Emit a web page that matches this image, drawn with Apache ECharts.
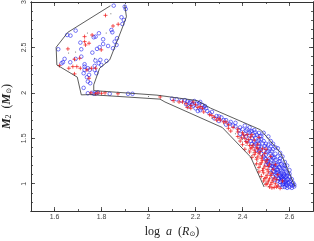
<!DOCTYPE html>
<html><head><meta charset="utf-8">
<style>html,body{margin:0;padding:0;background:#fff}#c{width:314px;height:241px}</style>
<script src="https://cdn.jsdelivr.net/npm/echarts@6/dist/echarts.min.js"></script>
</head><body><div id="c"></div>
<script>
const xMajor = [1.6,1.8,2,2.2,2.4,2.6];
const yMajor = [1,1.5,2,2.5,3];
const outlineLeft = [[1.838,2.959],[1.657,2.667],[1.607,2.502],[1.61,2.308],[1.697,2.173],[1.714,1.978],[1.75,1.981],[2.049,1.931],[2.07,1.90],[2.314,1.619],[2.435,1.293],[2.492,0.964]];
const outlineRight = [[2.623,0.97],[2.563,1.337],[2.477,1.593],[2.264,1.832],[2.207,1.915],[2.036,1.975],[1.767,2.025],[1.767,2.088],[1.792,2.271],[1.835,2.363],[1.885,2.692],[1.906,2.838],[1.899,2.967]];
const blueUpper = [[1.852,2.96],[1.899,2.949],[1.903,2.923],[1.885,2.832],[1.895,2.802],[1.889,2.758],[1.842,2.692],[1.846,2.667],[1.69,2.685],[1.654,2.637],[1.668,2.63],[1.789,2.656],[1.775,2.619],[1.767,2.612],[1.71,2.553],[1.807,2.59],[1.866,2.601],[1.856,2.564],[1.864,2.527],[1.849,2.491],[1.807,2.538],[1.828,2.516],[1.792,2.502],[1.781,2.484],[1.714,2.48],[1.761,2.443],[1.616,2.48],[1.643,2.374],[1.636,2.337],[1.63,2.326],[1.667,2.337],[1.69,2.374],[1.714,2.399],[1.728,2.315],[1.728,2.289],[1.774,2.355],[1.795,2.363],[1.788,2.326],[1.799,2.308],[1.771,2.297],[1.742,2.271],[1.771,2.253],[1.778,2.216],[1.75,2.253],[1.728,2.253],[1.724,2.216],[1.747,2.198],[1.738,2.172],[1.742,2.125],[1.752,2.106],[1.724,2.055],[1.821,2.352]];
const blueStrip = [[1.742,1.996],[1.76,2.0],[1.768,1.99],[1.778,1.996],[1.785,2.005],[1.835,1.99],[1.913,1.99],[1.932,1.99],[2.10,1.935],[2.12,1.93]];
const blueBand = [[2.14,1.915],[2.155,1.92],[2.165,1.905],[2.175,1.89],[2.18,1.90],[2.195,1.91],[2.205,1.88],[2.215,1.885],[2.23,1.865],[2.24,1.855],[2.2,1.83],[2.21,1.80],[2.235,1.84],[2.25,1.80],[2.26,1.775],[2.27,1.79],[2.29,1.745],[2.31,1.73],[2.33,1.70],[2.35,1.68],[2.37,1.63],[2.39,1.62],[2.37,1.67],[2.40,1.60],[2.41,1.64],[2.42,1.60],[2.43,1.56],[2.41,1.55],[2.40,1.52],[2.43,1.62],[2.44,1.58],[2.45,1.59],[2.46,1.54],[2.44,1.50],[2.42,1.47],[2.45,1.46],[2.47,1.56],[2.48,1.52],[2.49,1.56],[2.47,1.48],[2.45,1.42],[2.47,1.44],[2.49,1.47],[2.51,1.52],[2.50,1.44],[2.52,1.47],[2.53,1.44],[2.48,1.40],[2.50,1.39],[2.52,1.41],[2.51,1.36],[2.53,1.38],[2.55,1.39],[2.56,1.34],[2.54,1.33],[2.52,1.33],[2.50,1.32],[2.53,1.29],[2.55,1.30],[2.57,1.30],[2.52,1.26],[2.54,1.26],[2.56,1.25],[2.58,1.24],[2.51,1.22],[2.53,1.22],[2.55,1.21],[2.57,1.20],[2.59,1.20],[2.54,1.18],[2.56,1.17],[2.58,1.16],[2.60,1.15],[2.53,1.14],[2.55,1.13],[2.57,1.13],[2.59,1.12],[2.54,1.10],[2.56,1.09],[2.58,1.09],[2.60,1.08],[2.61,1.05],[2.55,1.06],[2.57,1.05],[2.59,1.05],[2.56,1.02],[2.58,1.02],[2.60,1.02],[2.62,0.99],[2.61,0.98],[2.59,0.98],[2.57,0.99],[2.60,0.965],[2.58,0.965],[2.62,0.97],[2.56,0.985],[2.55,1.03],[2.53,1.08],[2.52,1.17],[2.50,1.27],[2.48,1.33],[2.46,1.37],[2.44,1.44],[2.47,1.36],[2.49,1.30],[2.50,1.21],[2.52,1.12],[2.535,1.04],[2.45,1.53],[2.48,1.49],[2.51,1.43],[2.54,1.40],[2.56,1.28],[2.58,1.20],[2.60,1.11],[2.57,1.07],[2.59,1.09],[2.55,1.15],[2.53,1.19],[2.51,1.25],[2.49,1.36],[2.47,1.41],[2.43,1.53],[2.39,1.55],[2.36,1.64],[2.33,1.65],[2.30,1.69],[2.28,1.72],[2.22,1.81],[2.19,1.86],[2.17,1.85],[2.22,1.90]];
const blueDense = [[2.575,1.045],[2.585,1.035],[2.595,1.005],[2.605,0.995],[2.585,1.005],[2.575,1.015],[2.565,1.035],[2.555,1.055],[2.565,1.075],[2.575,1.085],[2.585,1.075],[2.545,1.085],[2.555,1.105],[2.565,1.115],[2.575,1.105],[2.585,1.135],[2.565,1.145],[2.545,1.155],[2.535,1.175],[2.555,1.185],[2.575,1.175],[2.525,1.195],[2.545,1.205],[2.565,1.215],[2.535,1.235],[2.555,1.245],[2.515,1.275],[2.535,1.285],[2.525,1.305],[2.505,1.345],[2.525,1.355],[2.495,1.415],[2.515,1.385],[2.485,1.445],[2.465,1.465],[2.455,1.505],[2.475,1.525],[2.435,1.575],[2.455,1.565],[2.415,1.585],[2.595,1.045],[2.605,1.035],[2.615,1.01],[2.57,0.965],[2.59,0.955],[2.61,0.955],[2.585,0.99],[2.575,1.0],[2.565,1.06],[2.545,1.12],[2.535,1.13],[2.515,1.205],[2.505,1.24],[2.495,1.28],[2.475,1.38],[2.455,1.44],[2.435,1.47],[2.415,1.52],[2.385,1.59],[2.345,1.66],[2.32,1.70],[2.3,1.74],[2.245,1.83],[2.225,1.83],[2.185,1.875],[2.16,1.875]];
const redUpper = [[1.817,2.853],[1.871,2.755],[1.849,2.736],[1.76,2.637],[1.728,2.619],[1.728,2.564],[1.732,2.527],[1.747,2.546],[1.657,2.484],[1.707,2.381],[1.685,2.37],[1.661,2.271],[1.678,2.289],[1.695,2.289],[1.71,2.271],[1.685,2.209],[1.621,2.3],[1.738,2.253],[1.757,2.271],[1.775,2.271],[1.747,2.161],[1.799,2.473]];
const redStrip = [[1.755,2.0],[1.775,1.99],[1.785,2.0],[1.80,1.995],[1.815,2.0],[1.87,1.99],[2.05,1.955],[2.105,1.915],[2.13,1.90],[2.145,1.90],[2.16,1.88]];
const redBand = [[2.18,1.86],[2.20,1.87],[2.19,1.90],[2.21,1.84],[2.165,1.84],[2.23,1.83],[2.235,1.79],[2.26,1.76],[2.28,1.73],[2.305,1.70],[2.32,1.68],[2.30,1.72],[2.34,1.65],[2.36,1.62],[2.35,1.58],[2.38,1.60],[2.40,1.56],[2.38,1.52],[2.39,1.47],[2.41,1.50],[2.42,1.45],[2.40,1.43],[2.43,1.42],[2.41,1.38],[2.44,1.40],[2.43,1.35],[2.45,1.37],[2.46,1.40],[2.45,1.32],[2.47,1.33],[2.44,1.29],[2.46,1.27],[2.48,1.28],[2.46,1.22],[2.48,1.23],[2.50,1.24],[2.47,1.18],[2.49,1.17],[2.51,1.19],[2.47,1.13],[2.49,1.12],[2.51,1.13],[2.53,1.16],[2.48,1.08],[2.50,1.07],[2.52,1.09],[2.49,1.03],[2.51,1.03],[2.53,1.04],[2.50,0.99],[2.52,0.99],[2.54,1.00],[2.535,0.96],[2.56,0.95],[2.55,0.975],[2.50,1.38],[2.52,1.30],[2.54,1.21],[2.45,1.48],[2.47,1.51],[2.42,1.54],[2.44,1.54],[2.38,1.57],[2.55,1.10],[2.57,1.03]];
const redDense = [[2.505,1.005],[2.525,1.015],[2.515,1.055],[2.535,1.065],[2.545,1.045],[2.495,1.055],[2.505,1.095],[2.525,1.115],[2.485,1.145],[2.505,1.155],[2.495,1.195],[2.515,1.215],[2.475,1.215],[2.485,1.255],[2.505,1.265],[2.465,1.295],[2.485,1.305],[2.495,1.335],[2.475,1.355],[2.455,1.345],[2.465,1.385],[2.485,1.385],[2.435,1.385],[2.445,1.425],[2.465,1.435],[2.425,1.485],[2.435,1.515],[2.405,1.535],[2.415,1.465],[2.395,1.505],[2.515,0.965],[2.545,0.965],[2.525,0.955],[2.33,1.68],[2.34,1.61],[2.29,1.70],[2.27,1.75],[2.22,1.85],[2.18,1.83]];
const blackDots = [[1.74,2.66],[1.82,2.66],[1.84,2.87],[1.66,2.44],[1.69,2.45],[1.77,2.38],[2.0,1.96],[2.11,1.90],[2.17,1.85],[2.27,1.72],[2.32,1.66],[2.37,1.55],[2.385,1.50],[2.40,1.46],[2.415,1.42],[2.425,1.37],[2.445,1.34],[2.44,1.31],[2.455,1.29],[2.465,1.25],[2.455,1.21],[2.475,1.19],[2.465,1.16],[2.485,1.15],[2.48,1.10],[2.49,1.06],[2.50,1.02],[2.495,1.00],[2.51,0.97],[2.53,0.955],[2.55,0.965],[2.47,1.34],[2.485,1.17],[2.40,1.49],[2.44,1.42],[2.51,1.03],[2.50,1.09],[2.52,1.13],[2.53,1.23]];

const blue = blueUpper.concat(blueStrip, blueBand, blueDense);
const red = redUpper.concat(redStrip, redBand, redDense);
const plus = 'path://M0 5H10M5 0V10';
const lab = {fontFamily:'Liberation Sans',fontSize:7,color:'#444'};
const line = {show:true,onZero:false,lineStyle:{color:'#333',width:1}};
const tickStyle = {color:'#333',width:0.8};
const R = (a,b)=>({type:'value',min:a,max:b,interval:0.1,splitLine:{show:false},axisLine:line});
const xAxes = [
 Object.assign(R(1.5,2.7),{position:'bottom',name:'{t|log  }{i|a}{t|  (}{i|R}{s|⊙}{t|)}',nameLocation:'middle',nameGap:15,
  nameTextStyle:{rich:{t:{fontFamily:'Liberation Serif',fontSize:12,color:'#222'},i:{fontFamily:'Liberation Serif',fontStyle:'italic',fontSize:12,color:'#222'},s:{fontFamily:'DejaVu Sans',fontSize:7,color:'#222',verticalAlign:'bottom'}}},
  axisTick:{inside:true,length:4,lineStyle:tickStyle,customValues:xMajor},
  axisLabel:{...lab,margin:3,customValues:xMajor,formatter:v=>String(v),hideOverlap:false}}),
 Object.assign(R(1.5,2.7),{position:'bottom',axisTick:{inside:true,length:2,lineStyle:tickStyle},axisLabel:{show:false}}),
 Object.assign(R(1.5,2.7),{position:'top',axisTick:{inside:true,length:4,lineStyle:tickStyle,customValues:xMajor},axisLabel:{show:false}}),
 Object.assign(R(1.5,2.7),{position:'top',axisTick:{inside:true,length:2,lineStyle:tickStyle},axisLabel:{show:false}})
];
const yAxes = [
 Object.assign(R(0.7,3),{position:'left',name:'{b|M}{sub|2}{t|  (}{b|M}{s|⊙}{t|)}',nameLocation:'middle',nameGap:17,
  nameTextStyle:{rich:{t:{fontFamily:'Liberation Serif',fontSize:12,color:'#222'},b:{fontFamily:'Liberation Serif',fontStyle:'italic',fontWeight:'bold',fontSize:12,color:'#222'},sub:{fontFamily:'Liberation Serif',fontSize:8,color:'#222',verticalAlign:'bottom'},s:{fontFamily:'DejaVu Sans',fontSize:7,color:'#222',verticalAlign:'bottom'}}},
  axisTick:{inside:true,length:4,lineStyle:tickStyle,customValues:yMajor},
  axisLabel:{...lab,rotate:90,margin:3,customValues:yMajor,formatter:v=>String(v),hideOverlap:false}}),
 Object.assign(R(0.7,3),{position:'left',axisTick:{inside:true,length:2,lineStyle:tickStyle},axisLabel:{show:false}}),
 Object.assign(R(0.7,3),{position:'right',axisTick:{inside:true,length:4,lineStyle:tickStyle,customValues:yMajor},axisLabel:{show:false}}),
 Object.assign(R(0.7,3),{position:'right',axisTick:{inside:true,length:2,lineStyle:tickStyle},axisLabel:{show:false}})
];
const chart = echarts.init(document.getElementById('c'),null,{renderer:'canvas'});
chart.setOption({
 animation:false,
 grid:{left:31,right:1,top:2,bottom:30,containLabel:false,outerBoundsMode:'none'},
 xAxis:xAxes,yAxis:yAxes,
 series:[
  {type:'scatter',data:blue,symbol:'circle',symbolSize:3.6,silent:true,itemStyle:{color:'rgba(0,0,0,0)',borderColor:'#2020f0',borderWidth:0.6,opacity:1}},
  {type:'scatter',data:blackDots,symbol:'circle',symbolSize:1,silent:true,itemStyle:{color:'#222'}},
  {type:'scatter',data:red,symbol:plus,symbolSize:4,silent:true,itemStyle:{color:'none',borderColor:'#f01818',borderWidth:0.9}},
  {type:'line',data:outlineLeft,showSymbol:false,silent:true,lineStyle:{color:'#333',width:0.8}},
  {type:'line',data:outlineRight,showSymbol:false,silent:true,lineStyle:{color:'#333',width:0.8}}
 ]
});
</script></body></html>
